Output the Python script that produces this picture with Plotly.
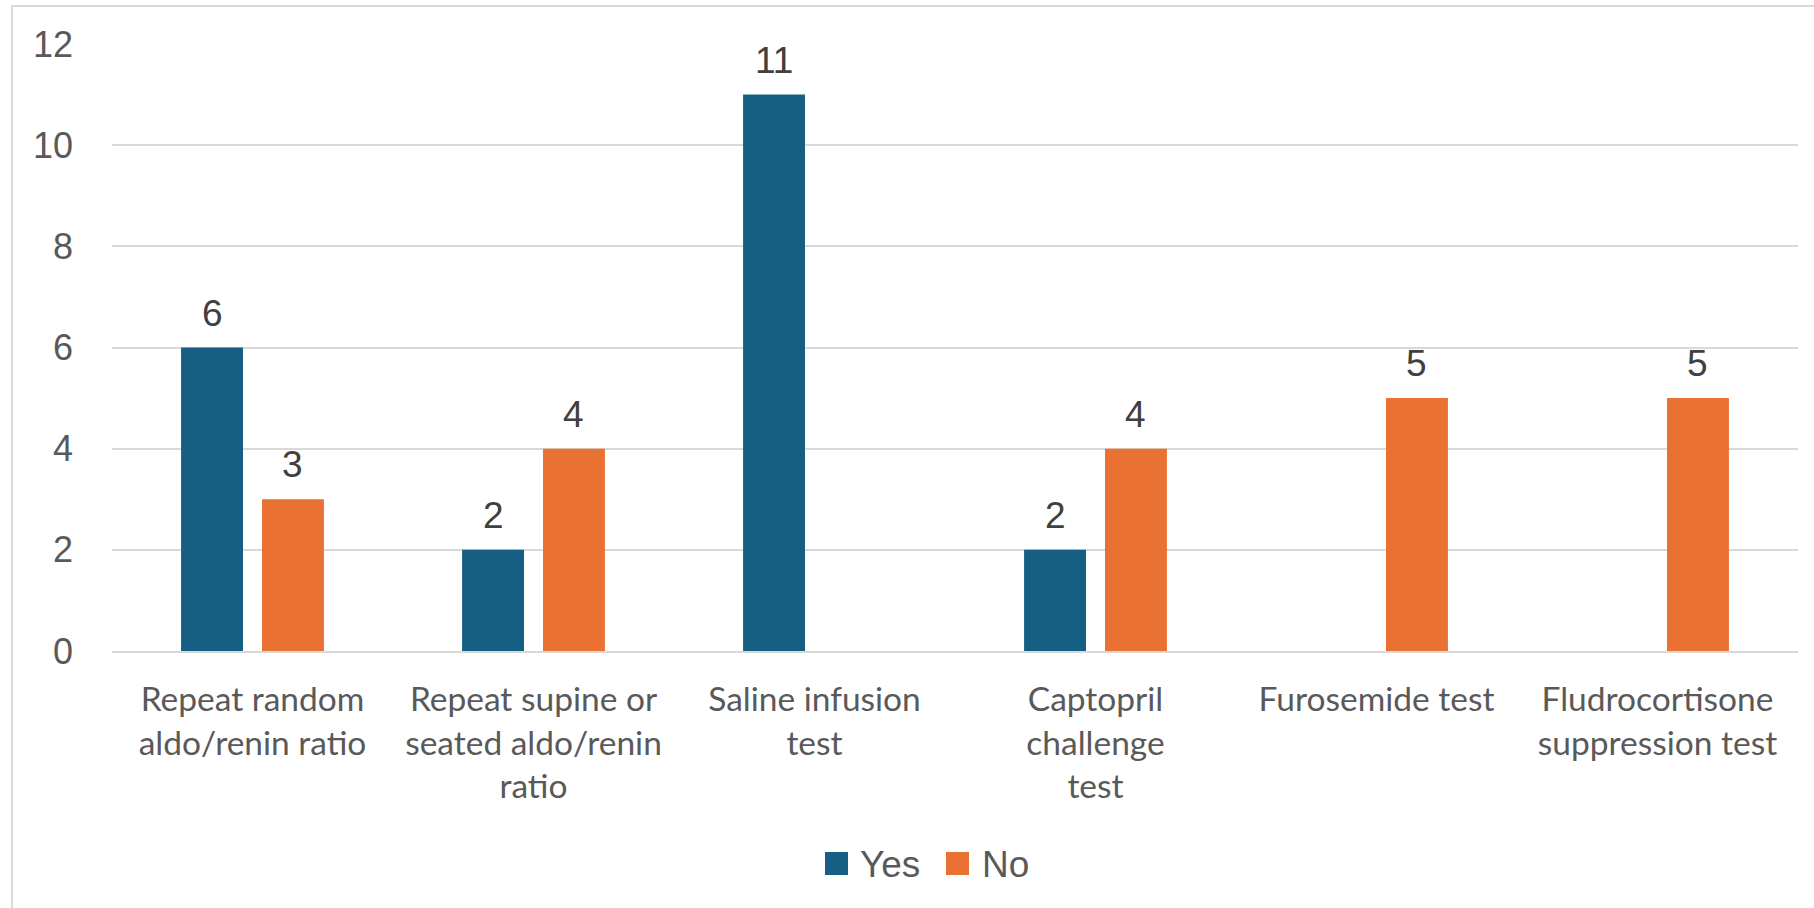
import plotly.graph_objects as go

# --- data -------------------------------------------------------------
categories = [
    "Repeat random<br>aldo/renin ratio",
    "Repeat supine or<br>seated aldo/renin<br>ratio",
    "Saline infusion<br>test",
    "Captopril<br>challenge<br>test",
    "Furosemide test",
    "Fludrocortisone<br>suppression test",
]
yes_values = [6, 2, 11, 2, None, None]
no_values = [3, 4, None, 4, 5, 5]
series_names = ["Yes", "No"]
y_ticks = [0, 2, 4, 6, 8, 10, 12]

# --- styling ------------------------------------------------------------
W, H = 1814, 908
PLOT_L, PLOT_R, PLOT_T, PLOT_B = 112, 1798, 44, 651
BLUE = "#156082"
ORANGE = "#E97132"
GRID = "#D9D9D9"
TICK_TEXT = "#595959"
LABEL_TEXT = "#404040"
BARGAP = 0.424
GROUPGAP = 0.235


def px_x(px):
    return (px - PLOT_L) / (PLOT_R - PLOT_L)


def px_y(py):
    return (PLOT_B - py) / (PLOT_B - PLOT_T)


xpos = list(range(len(categories)))

fig = go.Figure()
for name, vals, color in zip(series_names, [yes_values, no_values], [BLUE, ORANGE]):
    fig.add_trace(go.Bar(
        x=xpos, y=vals, name=name, marker=dict(color=color, line=dict(width=0)),
        showlegend=False, hoverinfo="x+y",
    ))

# value labels above each bar, centred on the bar's slot within its group
slot_offset = (1 - BARGAP) / 4
annotations = []
for sign, vals in [(-1, yes_values), (1, no_values)]:
    for i, v in enumerate(vals):
        if v is None:
            continue
        annotations.append(dict(
            x=i + sign * slot_offset, y=v, xref="x", yref="y",
            text=str(v), showarrow=False, yanchor="bottom", xanchor="center",
            yshift=12, font=dict(family="Liberation Sans, Arial", size=37, color=LABEL_TEXT),
        ))

# legend: coloured squares with labels, centred under the plot
shapes = []
legend_items = [(series_names[0], BLUE, 825, 858), (series_names[1], ORANGE, 946, 980)]
for text, color, sq_x, tx in legend_items:
    shapes.append(dict(
        type="rect", xref="paper", yref="paper",
        x0=px_x(sq_x), x1=px_x(sq_x + 23), y0=px_y(875), y1=px_y(852),
        fillcolor=color, line=dict(width=0),
    ))
    annotations.append(dict(
        x=px_x(tx), y=px_y(864), xref="paper", yref="paper", text=text,
        showarrow=False, xanchor="left", yanchor="middle",
        font=dict(family="Liberation Sans, Arial", size=37, color=TICK_TEXT),
    ))

# chart-area border (left and top edges)
shapes.append(dict(
    type="path", xref="paper", yref="paper",
    path=f"M {px_x(12)},{px_y(910)} L {px_x(12)},{px_y(6)} L {px_x(1816)},{px_y(6)}",
    line=dict(color=GRID, width=2),
))

fig.update_layout(
    width=W, height=H,
    margin=dict(l=PLOT_L, r=W - PLOT_R, t=PLOT_T, b=H - PLOT_B, pad=0),
    paper_bgcolor="white", plot_bgcolor="white",
    barmode="group", bargap=BARGAP, bargroupgap=GROUPGAP,
    showlegend=False,
    shapes=shapes, annotations=annotations,
    xaxis=dict(
        tickmode="array", tickvals=xpos, ticktext=categories,
        range=[-0.5, len(categories) - 0.5],
        showline=True, linecolor=GRID, linewidth=2,
        showgrid=False, zeroline=False, ticks="",
        tickfont=dict(family="Lato, Noto Sans", size=33.5, color=TICK_TEXT),
        ticklabelstandoff=18, tickangle=0,
    ),
    yaxis=dict(
        range=[0, 12], tickmode="array", tickvals=y_ticks,
        showgrid=True, gridcolor=GRID, gridwidth=2,
        zeroline=False, showline=False, ticks="",
        tickfont=dict(family="Liberation Sans, Arial", size=36, color=TICK_TEXT),
        ticklabelstandoff=38,
    ),
)

fig.write_html("out.html")
